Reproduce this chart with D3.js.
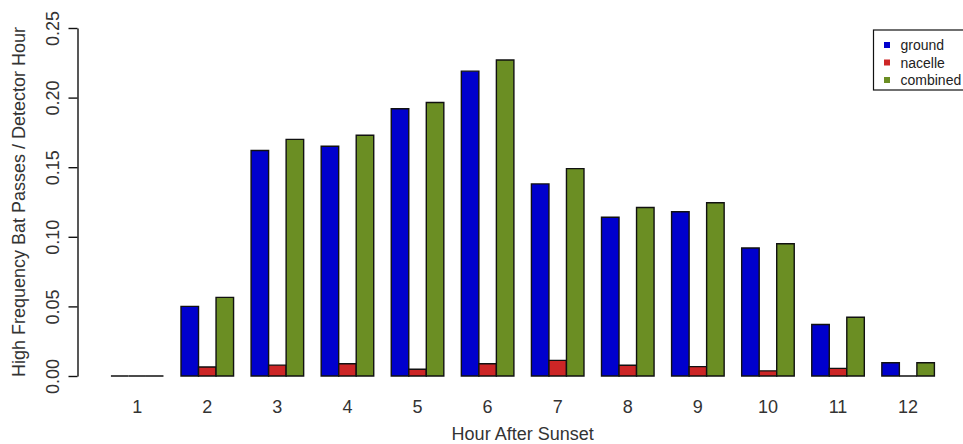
<!DOCTYPE html>
<html>
<head>
<meta charset="utf-8">
<script src="https://cdnjs.cloudflare.com/ajax/libs/d3/7.8.5/d3.min.js"></script>
<style>
  html, body { margin: 0; padding: 0; background: #fff; }
  svg { display: block; font-family: "Liberation Sans", Arial, Helvetica, sans-serif; }
</style>
</head>
<body>
<svg id="chart" width="963" height="444"></svg>
<script>
// Hour after sunset (categories)
const hours = ["1", "2", "3", "4", "5", "6", "7", "8", "9", "10", "11", "12"];
// High-frequency bat passes per detector hour
const ground   = [0, 0.050, 0.162, 0.165, 0.192, 0.219, 0.138, 0.114, 0.118, 0.092, 0.037, 0.0095];
const nacelle  = [0, 0.0065, 0.0078, 0.0088, 0.0048, 0.0088, 0.0112, 0.0077, 0.0067, 0.0037, 0.0055, 0];
const combined = [0, 0.0565, 0.170, 0.173, 0.1965, 0.227, 0.149, 0.121, 0.1245, 0.095, 0.0422, 0.0095];
const seriesNames = ["ground", "nacelle", "combined"];
const yTicks = [0, 0.05, 0.10, 0.15, 0.20, 0.25];

const colors = ["#0000CD", "#CD2626", "#6B8E23"];
const series = [ground, nacelle, combined];

const svg = d3.select("#chart");

// Bar units: each group has 3 bars of width 1 and a leading gap of 1
const nUnits = hours.length * 4;
const x = d3.scaleLinear().domain([0, nUnits]).range([93.4, 934.4]);
const y = d3.scaleLinear().domain([0, 0.25]).range([376, 28]);

// Bars drawn as closed paths so zero-height bars still show their outline
function barPath(x0, x1, y0, y1) {
  const p = d3.path();
  p.moveTo(x0, y0);
  p.lineTo(x1, y0);
  p.lineTo(x1, y1);
  p.lineTo(x0, y1);
  p.closePath();
  return p.toString();
}

const g = svg.append("g");
series.forEach((vals, j) => {
  g.selectAll(null)
    .data(vals)
    .enter().append("path")
    .attr("d", (d, i) => barPath(x(1 + 4 * i + j), x(2 + 4 * i + j), y(0), y(d)))
    .attr("fill", colors[j])
    .attr("stroke", "#111")
    .attr("stroke-width", 1.4);
});

// Y axis
const yAxis = d3.axisLeft(y)
  .tickValues(yTicks)
  .tickFormat(d3.format(".2f"))
  .tickSize(9)
  .tickSizeOuter(0);
const ya = svg.append("g").attr("transform", "translate(77.5,0)").call(yAxis);
ya.select(".domain").attr("stroke", "#111").attr("stroke-width", 1.4);
ya.selectAll(".tick line").attr("stroke", "#111").attr("stroke-width", 1.4);
ya.selectAll(".tick text")
  .attr("transform", "rotate(-90)")
  .attr("x", 0)
  .attr("y", -19)
  .attr("dy", 0)
  .attr("text-anchor", "middle")
  .attr("fill", "#333")
  .style("font-size", "18px")
  .style("font-family", "'Liberation Sans', Arial, sans-serif");

// Hour labels under each group
svg.append("g").selectAll("text")
  .data(hours)
  .enter().append("text")
  .attr("x", (d, i) => x(1 + 4 * i + 1.5))
  .attr("y", 413)
  .attr("text-anchor", "middle")
  .attr("fill", "#333")
  .style("font-size", "18px")
  .text(d => d);

// Axis titles
svg.append("text")
  .attr("x", (x(1) + x(nUnits)) / 2)
  .attr("y", 440)
  .attr("text-anchor", "middle")
  .attr("fill", "#333")
  .style("font-size", "18px")
  .text("Hour After Sunset");

svg.append("text")
  .attr("transform", `translate(25,${(y(0) + y(0.25)) / 2}) rotate(-90)`)
  .attr("text-anchor", "middle")
  .attr("fill", "#333")
  .style("font-size", "18px")
  .text("High Frequency Bat Passes / Detector Hour");

// Legend
const lg = svg.append("g").attr("transform", "translate(873.5,30)");
lg.append("rect")
  .attr("width", 100).attr("height", 60)
  .attr("fill", "#fff").attr("stroke", "#111").attr("stroke-width", 1.2);
seriesNames.forEach((name, j) => {
  const cy = 15 + j * 17.5;
  lg.append("rect")
    .attr("x", 10.5).attr("y", cy - 3)
    .attr("width", 6).attr("height", 6)
    .attr("fill", colors[j]);
  lg.append("text")
    .attr("x", 27).attr("y", cy + 5)
    .attr("fill", "#222")
    .style("font-size", "14px")
    .text(name);
});
</script>
</body>
</html>
